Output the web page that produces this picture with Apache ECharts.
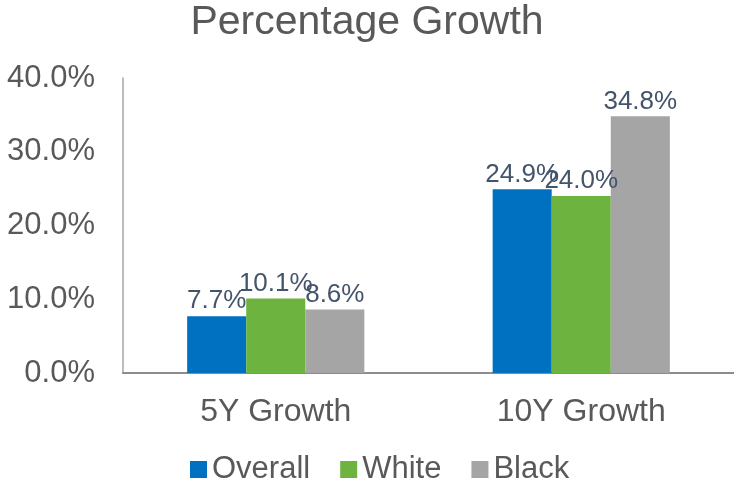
<!DOCTYPE html>
<html>
<head>
<meta charset="utf-8">
<script src="https://cdn.jsdelivr.net/npm/echarts@6/dist/echarts.min.js"></script>
<style>
  html, body { margin: 0; padding: 0; background: #fff; }
  #chart { width: 734px; height: 484px; }
</style>
</head>
<body>
<div id="chart"></div>
<script>
// values
const categories = ['5Y Growth', '10Y Growth'];
const overall = [7.7, 24.9];
const white = [10.1, 24.0];
const black = [8.6, 34.8];
const yTicks = [0, 10, 20, 30, 40];

const font = 'Liberation Sans, Arial, sans-serif';

const chart = echarts.init(document.getElementById('chart'), null, { renderer: 'canvas' });

const labelStyle = {
    show: true,
    position: 'top',
    distance: 2,
    color: '#44546A',
    fontFamily: font,
    fontSize: 26,
    formatter: p => p.value.toFixed(1) + '%'
};

const makeSeries = (name, data, color) => ({
    name: name,
    type: 'bar',
    data: data,
    barGap: '0%',
    barCategoryGap: '42%',
    itemStyle: { color: color },
    label: labelStyle
});

chart.setOption({
    animation: false,
    textStyle: { fontFamily: font },
    title: {
        text: 'Percentage Growth',
        left: 'center',
        top: -3,
        textStyle: { color: '#595959', fontSize: 41, fontWeight: 'normal', fontFamily: font }
    },
    legend: {
        top: 449,
        left: 185,
        itemWidth: 17,
        itemHeight: 17,
        itemGap: 30,
        icon: 'rect',
        textStyle: { color: '#595959', fontSize: 31, fontFamily: font },
        data: ['Overall', 'White', 'Black']
    },
    grid: { left: 123, right: 0, top: 78, bottom: 111, containLabel: false },
    xAxis: {
        type: 'category',
        data: categories,
        axisLine: { lineStyle: { color: '#8c8c8c', width: 2 } },
        axisTick: { show: false },
        axisLabel: { color: '#595959', fontSize: 32, fontFamily: font, margin: 23 }
    },
    yAxis: {
        type: 'value',
        min: yTicks[0],
        max: yTicks[yTicks.length - 1],
        interval: 10,
        axisLine: { show: true, lineStyle: { color: '#a6a6a6', width: 1.5 } },
        axisTick: { show: false },
        splitLine: { show: false },
        axisLabel: {
            color: '#595959',
            fontSize: 31,
            fontFamily: font,
            margin: 28,
            formatter: v => v.toFixed(1) + '%'
        }
    },
    series: [
        makeSeries('Overall', overall, '#0070C0'),
        makeSeries('White', white, '#6DB33F'),
        makeSeries('Black', black, '#A5A5A5')
    ]
});
</script>
</body>
</html>
